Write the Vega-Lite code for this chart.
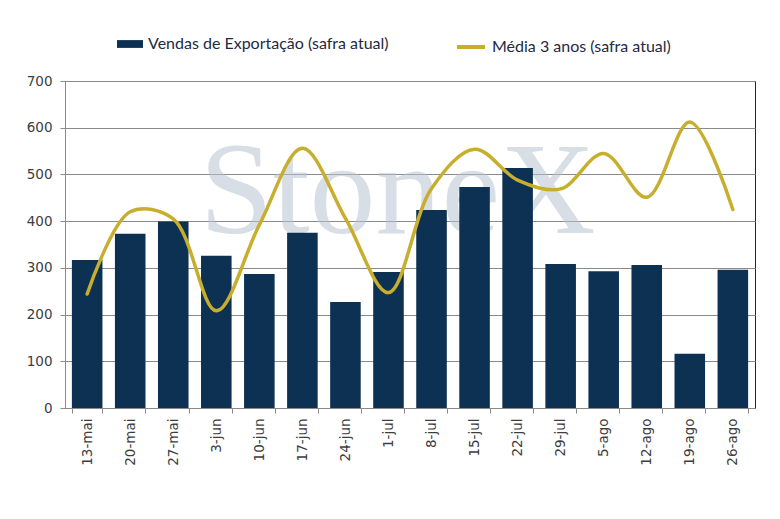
{
  "$schema": "https://vega.github.io/schema/vega-lite/v6.json",
  "width": 690,
  "height": 327,
  "autosize": {"type": "none"},
  "padding": {"left": 65, "top": 81, "right": 25, "bottom": 111},
  "background": "white",
  "config": {
    "font": "DejaVu Sans",
    "view": {"stroke": "#1b2a3d", "strokeWidth": 1},
    "axis": {
      "domainColor": "#8a8a8a",
      "tickColor": "#8a8a8a",
      "gridColor": "#8a8a8a",
      "labelColor": "#3d3d3d",
      "labelFontSize": 13.5,
      "labelFont": "DejaVu Sans",
      "title": null
    },
    "legend": {
      "labelFont": "Lato",
      "labelFontSize": 16,
      "labelColor": "#1f2a44",
      "labelLimit": 0,
      "title": null
    }
  },
  "data": {
    "values": [
      {"semana": "13-mai", "vendas": 317, "media": 244},
      {"semana": "20-mai", "vendas": 373, "media": 420},
      {"semana": "27-mai", "vendas": 399, "media": 405},
      {"semana": "3-jun", "vendas": 326, "media": 208},
      {"semana": "10-jun", "vendas": 287, "media": 392},
      {"semana": "17-jun", "vendas": 375, "media": 556},
      {"semana": "24-jun", "vendas": 227, "media": 406},
      {"semana": "1-jul", "vendas": 291, "media": 247},
      {"semana": "8-jul", "vendas": 424, "media": 470},
      {"semana": "15-jul", "vendas": 473, "media": 554},
      {"semana": "22-jul", "vendas": 514, "media": 488},
      {"semana": "29-jul", "vendas": 308, "media": 469},
      {"semana": "5-ago", "vendas": 293, "media": 545},
      {"semana": "12-ago", "vendas": 306, "media": 451},
      {"semana": "19-ago", "vendas": 116, "media": 612},
      {"semana": "26-ago", "vendas": 296, "media": 425}
    ]
  },
  "encoding": {
    "x": {
      "field": "semana",
      "type": "ordinal",
      "scale": {
        "domain": ["13-mai", "20-mai", "27-mai", "3-jun", "10-jun", "17-jun", "24-jun", "1-jul", "8-jul", "15-jul", "22-jul", "29-jul", "5-ago", "12-ago", "19-ago", "26-ago"],
        "paddingInner": 0.29,
        "paddingOuter": 0.16
      },
      "axis": {
        "labelAngle": 270,
        "labelAlign": "right",
        "labelBaseline": "middle",
        "labelPadding": 5,
        "tickBand": "extent",
        "tickSize": 5,
        "grid": false
      }
    }
  },
  "layer": [
    {
      "data": {"values": [{"marca": "StoneX", "semana": "1-jul", "nivel": 375}]},
      "mark": {"type": "text", "font": "Liberation Serif", "fontSize": 132, "color": "#b9c4d2", "opacity": 0.55, "align": "center", "baseline": "alphabetic", "dx": 9},
      "encoding": {
        "y": {"field": "nivel", "type": "quantitative"},
        "text": {"field": "marca"}
      }
    },
    {
      "mark": {"type": "bar"},
      "encoding": {
        "y": {
          "field": "vendas",
          "type": "quantitative",
          "scale": {"domain": [0, 700]},
          "axis": {"values": [0, 100, 200, 300, 400, 500, 600, 700], "tickSize": 5, "labelPadding": 8, "gridColor": "#8a8a8a", "gridWidth": 1}
        },
        "fill": {
          "datum": "Vendas de Exportação (safra atual)",
          "scale": {"range": ["#0c3152"]},
          "legend": {
            "orient": "none",
            "legendX": 52,
            "legendY": -50,
            "symbolType": "M-1,-0.3H1V0.3H-1Z",
            "symbolSize": 676,
            "symbolStrokeWidth": 0,
            "labelOffset": 5
          }
        }
      }
    },
    {
      "mark": {"type": "line", "interpolate": "catmull-rom", "strokeWidth": 3.5, "strokeCap": "round"},
      "encoding": {
        "y": {"field": "media", "type": "quantitative"},
        "stroke": {
          "datum": "Média 3 anos (safra atual)",
          "scale": {"range": ["#c8ae2e"]},
          "legend": {
            "orient": "none",
            "legendX": 390,
            "legendY": -50,
            "symbolType": "stroke",
            "symbolSize": 784,
            "symbolStrokeWidth": 4,
            "labelOffset": 5
          }
        }
      }
    }
  ]
}
